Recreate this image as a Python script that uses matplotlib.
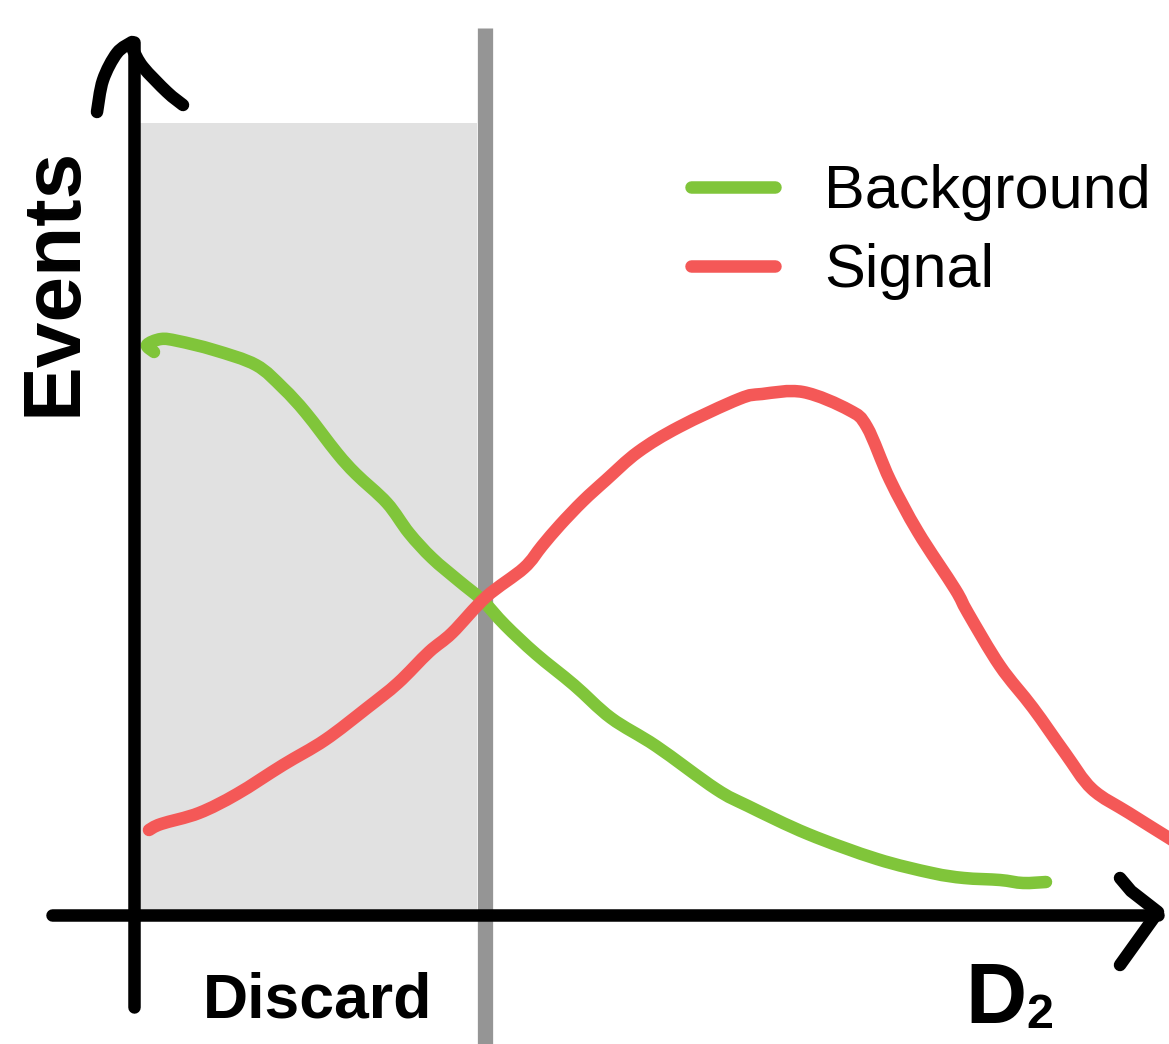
import matplotlib.pyplot as plt
import numpy as np
from matplotlib.lines import Line2D
from matplotlib.patches import PathPatch
from matplotlib.path import Path

# hand-drawn curves (D2 on x, Events on y)
bkg_d2 = [0.20, 0.13, 0.27, 0.44, 0.80, 1.22, 1.49, 1.72, 2.03, 2.22, 2.53, 2.75,
          2.98, 3.25, 3.48, 3.71, 4.02, 4.40, 4.77, 5.22, 5.82, 6.14, 6.74, 7.43,
          7.98, 8.30, 8.66, 8.89, 9.12]
bkg_events = [5.63, 5.70, 5.76, 5.74, 5.65, 5.50, 5.27, 5.02, 4.62, 4.41, 4.12, 3.82,
              3.57, 3.34, 3.15, 2.90, 2.61, 2.30, 1.97, 1.69, 1.26, 1.09, 0.81, 0.56,
              0.42, 0.37, 0.35, 0.32, 0.33]

sig_d2 = [0.15, 0.27, 0.65, 1.03, 1.49, 1.91, 2.33, 2.64, 2.95, 3.18, 3.52, 3.90,
          4.08, 4.26, 4.49, 4.72, 5.04, 5.45, 6.05, 6.28, 6.69, 7.15, 7.33, 7.56,
          7.84, 8.21, 8.34, 8.66, 8.99, 9.31, 9.58, 9.95, 10.35, 10.46]
sig_events = [0.85, 0.91, 1.02, 1.21, 1.50, 1.75, 2.07, 2.32, 2.63, 2.82, 3.18, 3.47,
              3.69, 3.90, 4.14, 4.35, 4.63, 4.88, 5.16, 5.21, 5.23, 5.05, 4.88, 4.35,
              3.83, 3.26, 3.02, 2.49, 2.07, 1.62, 1.26, 1.02, 0.77, 0.70]

cut = 3.51          # D2 cut position
shade_top = 7.92

# sketchy axes and arrowheads
yaxis_x = [0.0, 0.0]
yaxis_y = [-0.92, 8.73]
xaxis_x = [-0.82, 10.24]
xaxis_y = [0.0, 0.0]
yhead_left_x = [-0.02, -0.17, -0.31, -0.37]
yhead_left_y = [8.73, 8.62, 8.35, 8.03]
yhead_right_x = [-0.01, 0.09, 0.33, 0.49]
yhead_right_y = [8.65, 8.48, 8.23, 8.10]
xhead_x = [9.86, 9.97, 10.24, 9.86]
xhead_y = [0.37, 0.24, 0.03, -0.50]

green = "#80c53a"
red = "#f45857"


def smooth_path(xs, ys):
    """Catmull-Rom style bezier path through the given points"""
    p = np.column_stack([xs, ys])
    verts, codes = [p[0]], [Path.MOVETO]
    for i in range(len(p) - 1):
        p0 = p[max(i - 1, 0)]
        p1, p2 = p[i], p[i + 1]
        p3 = p[min(i + 2, len(p) - 1)]
        verts += [p1 + (p2 - p0) / 6, p2 - (p3 - p1) / 6, p2]
        codes += [Path.CURVE4] * 3
    return Path(verts, codes)


fig = plt.figure(figsize=(11.69, 10.44), dpi=100)
ax = fig.add_axes([0, 0, 1, 1])
ax.set_xlim(-1.34, 10.35)
ax.set_ylim(-1.29, 9.15)
ax.axis("off")

# discarded region + cut line
ax.fill_between([0, cut - 0.08], 0, shade_top, color="#e1e1e1", lw=0, zorder=1)
ax.plot([cut, cut], [-1.5, 8.87], color="#959595", lw=11, solid_capstyle="butt", zorder=2)

for xs, ys, c in [(bkg_d2, bkg_events, green), (sig_d2, sig_events, red)]:
    ax.add_patch(PathPatch(smooth_path(xs, ys), fill=False, edgecolor=c, lw=9,
                           capstyle="round", joinstyle="round", zorder=3))

ak = dict(color="black", lw=9, solid_capstyle="round", solid_joinstyle="round", zorder=4)
ax.plot(yaxis_x, yaxis_y, **ak)
ax.plot(xaxis_x, xaxis_y, **ak)
ax.plot(xhead_x, xhead_y, **ak)
for xs, ys in [(yhead_left_x, yhead_left_y), (yhead_right_x, yhead_right_y)]:
    ax.add_patch(PathPatch(smooth_path(xs, ys), fill=False, edgecolor="black", lw=9,
                           capstyle="round", joinstyle="round", zorder=4))

font = "Liberation Sans"
ax.text(-0.79, 6.34, "Events", rotation=90, ha="center", va="center",
        fontsize=59, fontweight="bold", family=font)
ax.text(1.84, -1.02, "Discard", ha="center", va="baseline",
        fontsize=45, fontweight="bold", family=font)
ax.text(8.31, -1.08, "D", ha="left", va="baseline",
        fontsize=61, fontweight="bold", family=font)
ax.text(8.92, -1.13, "2", ha="left", va="baseline",
        fontsize=35, fontweight="bold", family=font)

handles = [Line2D([], [], color=green, lw=9, solid_capstyle="round"),
           Line2D([], [], color=red, lw=9, solid_capstyle="round")]
ax.legend(handles, ["Background", "Signal"], loc="upper left",
          bbox_to_anchor=(0.591, 0.843), frameon=False, borderpad=0,
          borderaxespad=0, handlelength=1.38, handletextpad=0.8,
          labelspacing=0.36, prop={"family": font, "size": 44})

fig.savefig("out.png", dpi=100)
